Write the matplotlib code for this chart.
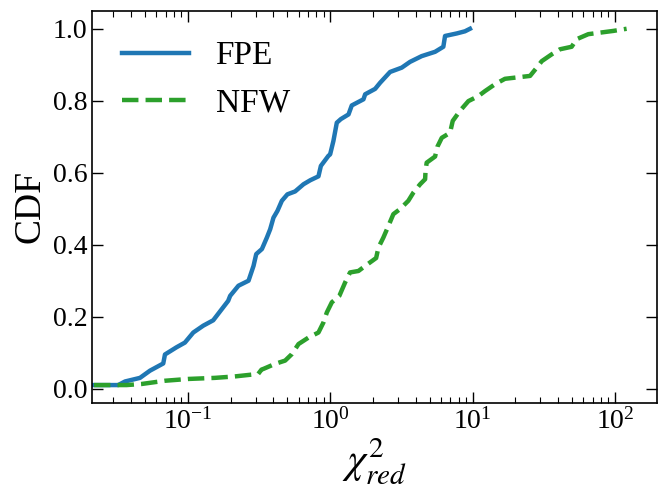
import numpy as np
import matplotlib
matplotlib.use("Agg")
import matplotlib.pyplot as plt
from matplotlib.ticker import LogLocator, NullFormatter

plt.rcParams['font.family'] = ['Liberation Serif', 'DejaVu Serif']
plt.rcParams['mathtext.fontset'] = 'stix'

# reduced chi^2 vs CDF
fpe_chi2 = [0.015, 0.0325, 0.0363, 0.0462, 0.0543, 0.0673, 0.0692, 0.0834, 0.0955,
            0.1094, 0.1285, 0.151, 0.1774, 0.1923, 0.1986, 0.227, 0.2673, 0.2897,
            0.3027, 0.3319, 0.3597, 0.3793, 0.3999, 0.4266, 0.4581, 0.5012, 0.5675,
            0.6501, 0.7244, 0.8279, 0.861, 0.9727, 1.0, 1.054, 1.114, 1.189, 1.346,
            1.419, 1.714, 1.762, 2.070, 2.244, 2.636, 3.184, 3.639, 4.395, 5.458,
            6.237, 6.412, 7.745, 8.851, 9.594]
fpe_cdf = [0.01, 0.01, 0.02, 0.03, 0.05, 0.07, 0.095, 0.115, 0.128,
           0.156, 0.175, 0.19, 0.226, 0.244, 0.258, 0.286, 0.30, 0.341,
           0.374, 0.388, 0.42, 0.443, 0.475, 0.494, 0.522, 0.54, 0.548,
           0.568, 0.579, 0.59, 0.619, 0.647, 0.651, 0.688, 0.739, 0.749, 0.762,
           0.787, 0.804, 0.818, 0.833, 0.85, 0.88, 0.892, 0.908, 0.924, 0.936,
           0.95, 0.98, 0.987, 0.993, 1.0]

nfw_chi2 = [0.015, 0.0372, 0.0474, 0.0692, 0.1009, 0.1552, 0.2143, 0.3126, 0.3296,
            0.3404, 0.4111, 0.4831, 0.5383, 0.5998, 0.7047, 0.8279, 0.8974, 0.9484,
            1.028, 1.161, 1.274, 1.380, 1.581, 1.762, 2.104, 2.183, 2.366, 2.564,
            2.780, 3.097, 3.540, 3.846, 4.285, 4.645, 4.677, 4.764, 5.458, 5.662,
            6.081, 6.950, 7.261, 8.166, 9.354, 10.99, 12.25, 14.39, 16.90, 25.35,
            28.25, 30.62, 35.97, 41.11, 49.66, 53.83, 65.01, 97.27, 120.8]
nfw_cdf = [0.01, 0.01, 0.013, 0.022, 0.027, 0.03, 0.034, 0.041, 0.053,
           0.055, 0.069, 0.078, 0.096, 0.124, 0.142, 0.156, 0.184, 0.212,
           0.24, 0.258, 0.295, 0.323, 0.327, 0.341, 0.363, 0.392, 0.42, 0.452,
           0.485, 0.499, 0.522, 0.545, 0.568, 0.582, 0.605, 0.628, 0.645, 0.672,
           0.697, 0.711, 0.744, 0.772, 0.799, 0.813, 0.827, 0.846, 0.861, 0.869,
           0.892, 0.91, 0.929, 0.943, 0.95, 0.971, 0.985, 0.994, 1.0]

fig, ax = plt.subplots(figsize=(6.68, 4.98), dpi=100)
fig.subplots_adjust(left=0.138, right=0.983, top=0.978, bottom=0.191)

ax.plot(fpe_chi2, fpe_cdf, color='#1f77b4', lw=3.2, label='FPE')
ax.plot(nfw_chi2, nfw_cdf, color='#2ca02c', lw=3.2, ls='--', label='NFW')

ax.set_xscale('log')
ax.set_xlim(0.02133, 196.3)
ax.set_ylim(-0.0395, 1.0495)
ax.set_yticks([0.0, 0.2, 0.4, 0.6, 0.8, 1.0])
ax.xaxis.set_minor_locator(LogLocator(base=10, subs=np.arange(2, 10), numticks=20))
ax.xaxis.set_minor_formatter(NullFormatter())

ax.tick_params(which='both', direction='in', top=True, right=True, labelsize=20)
ax.tick_params(which='major', length=8, width=1.0)
ax.tick_params(which='minor', length=4, width=0.8)
for s in ax.spines.values():
    s.set_linewidth(1.2)

ax.set_xlabel(r'$\chi^2_{red}$', fontsize=30, labelpad=2)
ax.set_ylabel('CDF', fontsize=27)
ax.legend(loc='upper left', fontsize=24, frameon=False)

plt.savefig('out.png', dpi=100)
